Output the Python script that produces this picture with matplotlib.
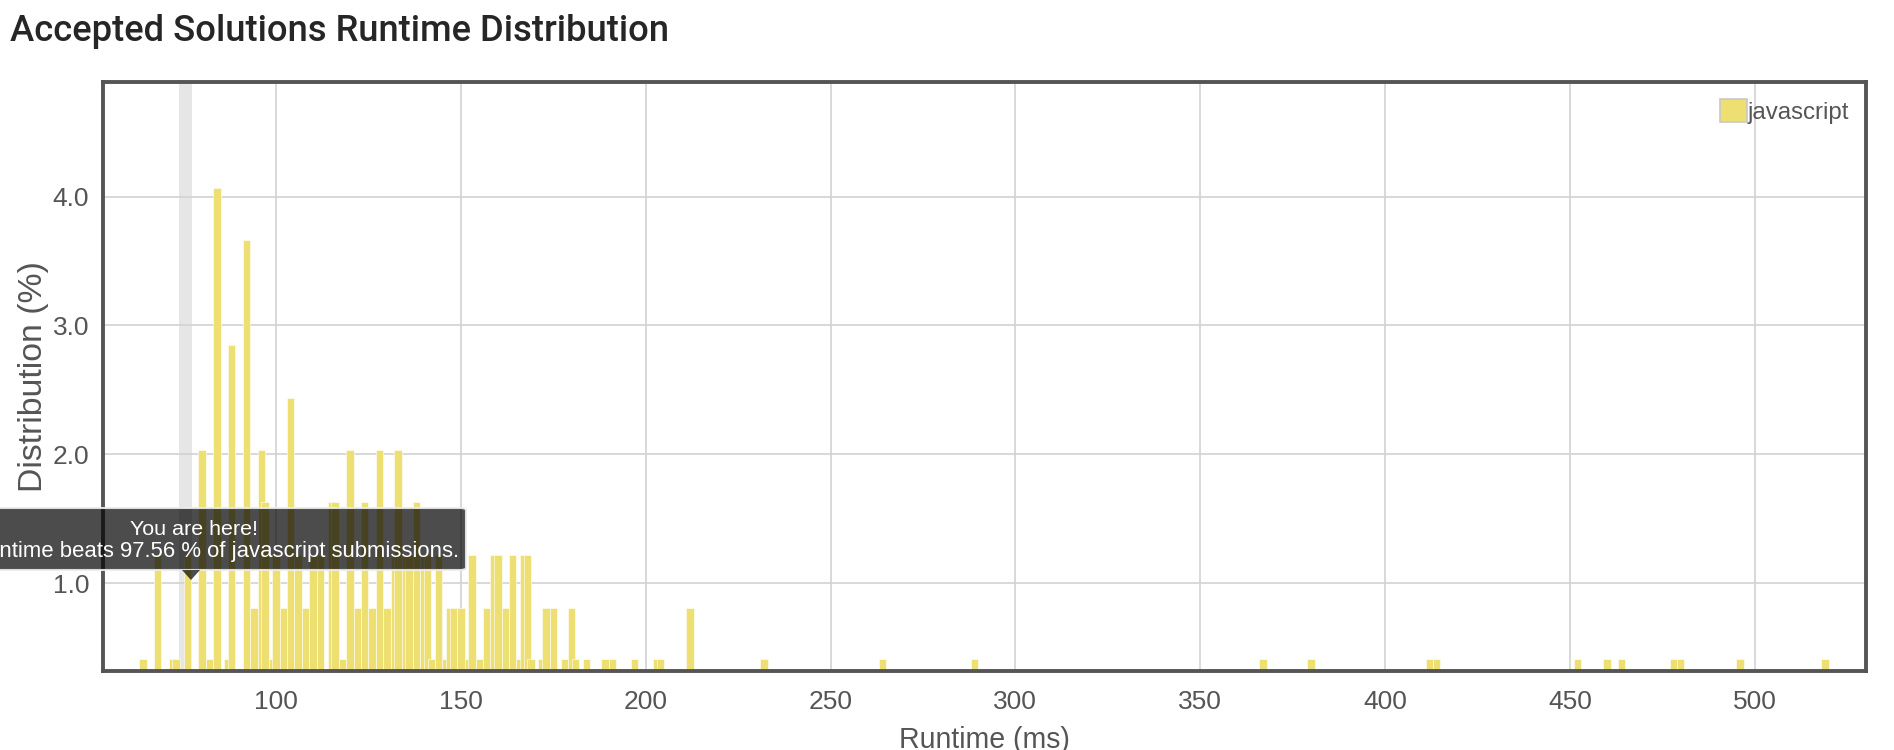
import matplotlib
matplotlib.use("Agg")
import matplotlib.pyplot as plt
from matplotlib.patches import Patch, FancyBboxPatch, Polygon

# ---- data ----
runtime_ms = [64, 68, 72, 73, 76, 80, 82, 84, 87, 88,
              92, 94, 96, 97, 99, 100, 102, 104, 106, 108,
              110, 112, 115, 116, 118, 120, 122, 124, 126, 128,
              130, 132, 133, 135, 136, 138, 140, 141, 142, 144,
              146, 147, 148, 150, 152, 153, 155, 157, 159, 160,
              162, 164, 166, 167, 168, 169, 172, 173, 175, 178,
              180, 181, 184, 189, 191, 197, 203, 204, 212, 232,
              264, 289, 367, 380, 412, 414, 452, 460, 464, 478,
              480, 496, 519]
distribution_pct = [0.41, 1.22, 0.41, 0.41, 1.22, 2.03, 0.41, 4.07, 0.41, 2.85,
                    3.66, 0.81, 2.03, 1.63, 0.41, 1.22, 0.81, 2.44, 1.22, 0.81,
                    1.22, 1.22, 1.63, 1.63, 0.41, 2.03, 0.81, 1.63, 0.81, 2.03,
                    0.81, 1.22, 2.03, 1.22, 1.22, 1.63, 1.22, 1.22, 0.41, 1.22,
                    0.41, 0.81, 0.81, 0.81, 0.41, 1.22, 0.41, 0.81, 1.22, 1.22,
                    0.81, 1.22, 0.41, 1.22, 1.22, 0.41, 0.41, 0.81, 0.81, 0.41,
                    0.81, 0.41, 0.41, 0.41, 0.41, 0.41, 0.41, 0.41, 0.81, 0.41,
                    0.41, 0.41, 0.41, 0.41, 0.41, 0.41, 0.41, 0.41, 0.41, 0.41,
                    0.41, 0.41, 0.41]
x_ticks = [100, 150, 200, 250, 300, 350, 400, 450, 500]
y_ticks = [1.0, 2.0, 3.0, 4.0]
series_name = "javascript"
my_runtime_band = (73.7, 77.4)
title_text = "Accepted Solutions Runtime Distribution"
x_label = "Runtime (ms)"
y_label = "Distribution (%)"
tooltip_line1 = "You are here!"
tooltip_line2 = "Your runtime beats 97.56 % of javascript submissions."

# ---- style ----
W, H = 1894, 750
YELLOW = "#EDDF71"
TEXT = "#555555"
FONT = "Liberation Sans"
plt.rcParams["font.family"] = [FONT, "DejaVu Sans"]

fig = plt.figure(figsize=(W / 100, H / 100), dpi=100)
fig.patch.set_facecolor("white")

def fx(px):
    return px / W

def fy(py):
    return 1 - py / H

ax_l, ax_r, ax_t, ax_b = 103, 1866, 82, 671
ax = fig.add_axes([fx(ax_l), fy(ax_b), (ax_r - ax_l) / W, (ax_b - ax_t) / H])
ax.set_xlim(53.2, 530.1)
ax.set_ylim(0.318, 4.89)

ax.axvspan(*my_runtime_band, color="#E6E6E6", zorder=0.5, lw=0)
ax.bar(runtime_ms, distribution_pct, width=2.0, color=YELLOW,
       edgecolor="white", linewidth=0.4, zorder=2, label=series_name)

ax.set_xticks(x_ticks)
ax.set_xticklabels([str(v) for v in x_ticks])
ax.set_yticks(y_ticks)
ax.set_yticklabels([f"{v:.1f}" for v in y_ticks])
ax.grid(True, color="#D2D2D2", linewidth=1.2, zorder=1)
ax.set_axisbelow(True)
ax.tick_params(length=0, labelsize=19, labelcolor=TEXT)
ax.tick_params(axis="y", pad=10)
ax.tick_params(axis="x", pad=14)
for s in ax.spines.values():
    s.set_color("#555555")
    s.set_linewidth(2.8)
    s.set_zorder(5)

leg = ax.legend(handles=[Patch(facecolor=YELLOW, edgecolor="#C8C8C8", linewidth=1.2)],
                labels=[series_name], loc="upper right", frameon=False,
                fontsize=17.3, handlelength=1.1, handleheight=1.1,
                handletextpad=0.05, borderaxespad=0.3, labelcolor=TEXT)

# axis labels
xl = fig.text(fx((ax_l + ax_r) / 2), fy(748), x_label, ha="center", va="baseline",
              fontsize=20, color=TEXT)
yl = fig.text(fx(34), fy((ax_t + ax_b) / 2), y_label, ha="center", va="center",
              rotation=90, fontsize=24, color=TEXT)

# title
title = fig.text(fx(10), fy(41), title_text, ha="left", va="baseline",
                 fontsize=26.7, color="#262626",
                 family=["Roboto", "Liberation Sans", "DejaVu Sans"], fontweight="medium")

# tooltip
box_l, box_r, box_t, box_b = -60, 466, 508, 570
box = FancyBboxPatch((fx(box_l), fy(box_b)), (box_r - box_l) / W, (box_b - box_t) / H,
                     boxstyle="round,pad=0,rounding_size=0.003",
                     transform=fig.transFigure, facecolor=(0, 0, 0, 0.7),
                     edgecolor=(0.93, 0.93, 0.93, 0.9), linewidth=1.5, zorder=10)
fig.add_artist(box)
tip = Polygon([(fx(182), fy(570)), (fx(200), fy(570)), (fx(191), fy(580))],
              closed=True, transform=fig.transFigure, facecolor=(0, 0, 0, 0.7),
              edgecolor="none", zorder=10)
fig.add_artist(tip)
t1 = fig.text(fx(194), fy(535), tooltip_line1, ha="center", va="baseline",
              fontsize=15.2, color="white", zorder=11)
t2 = fig.text(fx(194), fy(557), tooltip_line2, ha="center", va="baseline",
              fontsize=15.2, color="white", zorder=11)

# fit widths of some texts to measured pixel widths
fig.canvas.draw()
r = fig.canvas.get_renderer()
for t, target, use_h in [(title, 662, False), (t1, 128, False), (t2, 530, False),
                         (xl, 171, False), (yl, 231, True)]:
    bb = t.get_window_extent(r)
    w = bb.height if use_h else bb.width
    t.set_fontsize(t.get_fontsize() * target / w)

fig.savefig("out.png", dpi=100)
